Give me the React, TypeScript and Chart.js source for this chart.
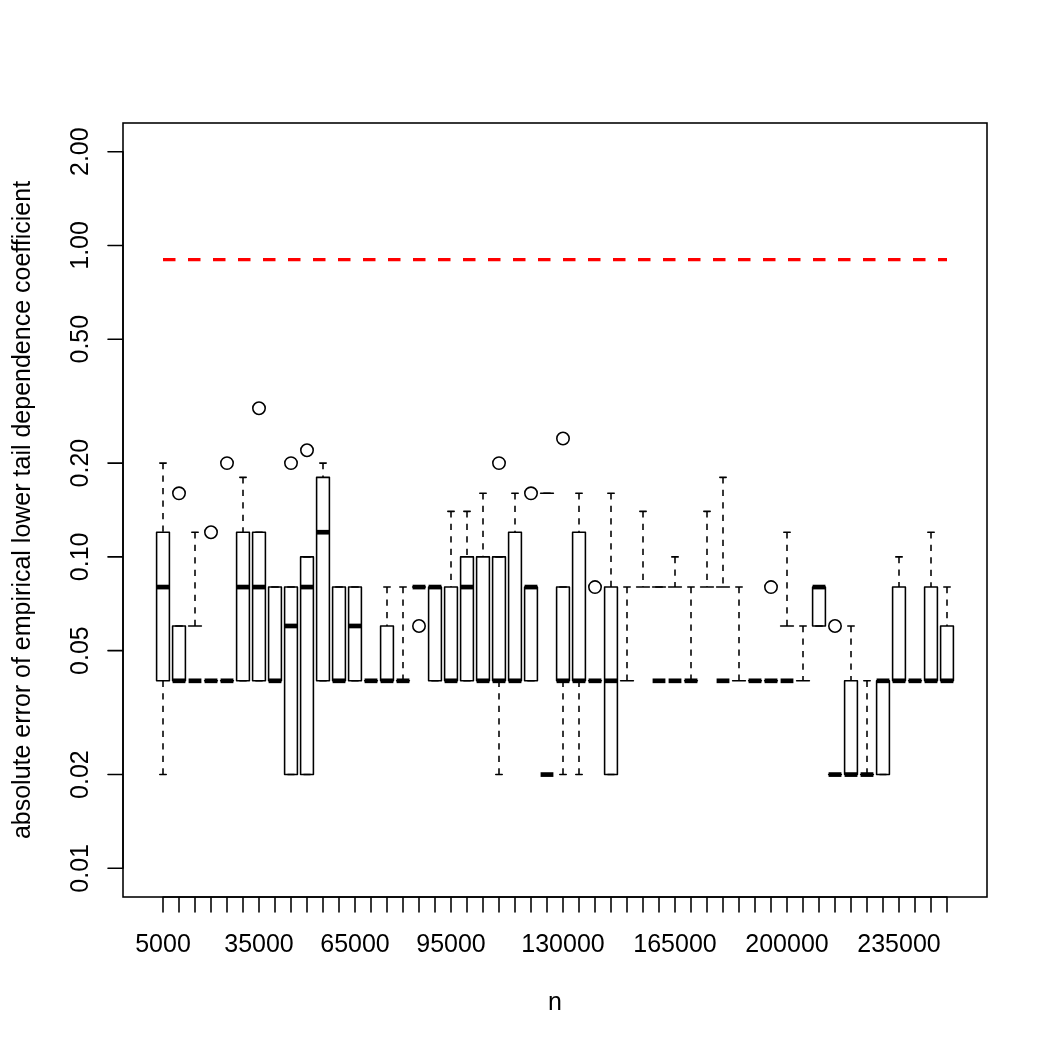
import React, { useEffect, useRef } from 'react';
import { Chart, registerables } from 'chart.js';

Chart.register(...registerables);

// Sample sizes (one box per n)
const sampleSizes = [
  5000, 10000, 15000, 20000, 25000, 30000, 35000, 40000, 45000, 50000,
  55000, 60000, 65000, 70000, 75000, 80000, 85000, 90000, 95000, 100000,
  105000, 110000, 115000, 120000, 125000, 130000, 135000, 140000, 145000, 150000,
  155000, 160000, 165000, 170000, 175000, 180000, 185000, 190000, 195000, 200000,
  205000, 210000, 215000, 220000, 225000, 230000, 235000, 240000, 245000, 250000,
];

// Five-number summaries of the absolute errors (0 = exact estimate, not shown on a log axis)
const whiskerLow = [
  0.02, 0.04, 0, 0.04, 0.04, 0.04, 0.04, 0.04, 0.02, 0.02,
  0.04, 0.04, 0.04, 0.04, 0.04, 0.04, 0.08, 0.04, 0.04, 0.04,
  0.04, 0.02, 0.04, 0.04, 0, 0.02, 0.02, 0.04, 0.02, 0,
  0, 0, 0, 0.04, 0, 0, 0, 0.04, 0.04, 0,
  0, 0.06, 0.02, 0.02, 0.02, 0.02, 0.04, 0.04, 0.04, 0.04,
];
const lowerHinge = [
  0.04, 0.04, 0, 0.04, 0.04, 0.04, 0.04, 0.04, 0.02, 0.02,
  0.04, 0.04, 0.04, 0.04, 0.04, 0.04, 0.08, 0.04, 0.04, 0.04,
  0.04, 0.04, 0.04, 0.04, 0, 0.04, 0.04, 0.04, 0.02, 0,
  0, 0, 0, 0.04, 0, 0, 0, 0.04, 0.04, 0,
  0, 0.06, 0.02, 0.02, 0.02, 0.02, 0.04, 0.04, 0.04, 0.04,
];
const medians = [
  0.08, 0.04, 0.04, 0.04, 0.04, 0.08, 0.08, 0.04, 0.06, 0.08,
  0.12, 0.04, 0.06, 0.04, 0.04, 0.04, 0.08, 0.08, 0.04, 0.08,
  0.04, 0.04, 0.04, 0.08, 0.02, 0.04, 0.04, 0.04, 0.04, 0,
  0, 0.04, 0.04, 0.04, 0, 0.04, 0, 0.04, 0.04, 0.04,
  0, 0.08, 0.02, 0.02, 0.02, 0.04, 0.04, 0.04, 0.04, 0.04,
];
const upperHinge = [
  0.12, 0.06, 0.06, 0.04, 0.04, 0.12, 0.12, 0.08, 0.08, 0.10,
  0.18, 0.08, 0.08, 0.04, 0.06, 0.04, 0.08, 0.08, 0.08, 0.10,
  0.10, 0.10, 0.12, 0.08, 0.16, 0.08, 0.12, 0.04, 0.08, 0.04,
  0.08, 0.08, 0.08, 0.04, 0.08, 0.08, 0.04, 0.04, 0.04, 0.06,
  0.04, 0.08, 0.02, 0.04, 0.02, 0.04, 0.08, 0.04, 0.08, 0.06,
];
const whiskerHigh = [
  0.20, 0.06, 0.12, 0.04, 0.04, 0.18, 0.12, 0.08, 0.08, 0.10,
  0.20, 0.08, 0.08, 0.04, 0.08, 0.08, 0.08, 0.08, 0.14, 0.14,
  0.16, 0.10, 0.16, 0.08, 0.16, 0.08, 0.16, 0.04, 0.16, 0.08,
  0.14, 0.08, 0.10, 0.08, 0.14, 0.18, 0.08, 0.04, 0.04, 0.12,
  0.06, 0.08, 0.02, 0.06, 0.04, 0.04, 0.10, 0.04, 0.12, 0.08,
];

// Outlying runs: box number (1-based) and value
const outlierBox = [2, 4, 5, 7, 9, 10, 17, 22, 24, 26, 28, 39, 43];
const outlierValue = [0.16, 0.12, 0.20, 0.30, 0.20, 0.22, 0.06, 0.20, 0.16, 0.24, 0.08, 0.08, 0.06];

// Reference level drawn across all sample sizes
const referenceLevel = 0.9;

// Axis ticks and labels
const yTicks = [0.01, 0.02, 0.05, 0.1, 0.2, 0.5, 1, 2];
const yTickLabels = ['0.01', '0.02', '0.05', '0.10', '0.20', '0.50', '1.00', '2.00'];
const xShownLabels = ['5000', '35000', '65000', '95000', '130000', '165000', '200000', '235000'];

const X_TITLE = 'n';
const Y_TITLE = 'absolute error of empirical lower tail dependence coefficient';

// Axis limits: data range extended by 4% on each side (log scale for y)
const Y_LO = Math.log10(0.01);
const Y_HI = Math.log10(2);
const Y_PAD = (Y_HI - Y_LO) * 0.04;
const Y_MIN = Math.pow(10, Y_LO - Y_PAD);
const Y_MAX = Math.pow(10, Y_HI + Y_PAD);
const X_MIN = 0.5 - sampleSizes.length * 0.04;
const X_MAX = sampleSizes.length + 0.5 + sampleSizes.length * 0.04;

const FONT = '"Liberation Sans", Arial, Helvetica, sans-serif';
const LWD = 1.5625; // one line-width unit in pixels
const BOX_WEX = 0.8;

const boxplotPlugin = {
  id: 'boxplots',
  beforeDatasetsDraw(chart: any) {
    const { ctx, scales } = chart;
    const xs = scales.x;
    const ys = scales.y;
    const py = (v: number) => (v > 0 ? ys.getPixelForValue(v) : NaN);
    ctx.save();
    const area = chart.chartArea;
    ctx.beginPath();
    ctx.rect(area.left, area.top, area.right - area.left, area.bottom - area.top);
    ctx.clip();
    for (let i = 0; i < sampleSizes.length; i++) {
      const cx = xs.getPixelForValue(i + 1);
      const half = xs.getPixelForValue(i + 1 + BOX_WEX / 2) - cx;
      const sHalf = half * 0.5;
      const lo = py(whiskerLow[i]);
      const q1 = py(lowerHinge[i]);
      const md = py(medians[i]);
      const q3 = py(upperHinge[i]);
      const hi = py(whiskerHigh[i]);

      // box: polygon split into runs of finite vertices
      const vx = [cx - half, cx + half, cx + half, cx - half];
      const vy = [q1, q1, q3, q3];
      let run: number[] = [];
      const flush = () => {
        if (run.length > 1) {
          ctx.beginPath();
          ctx.moveTo(vx[run[0]], vy[run[0]]);
          for (let k = 1; k < run.length; k++) ctx.lineTo(vx[run[k]], vy[run[k]]);
          ctx.closePath();
          ctx.fillStyle = '#ffffff';
          ctx.fill();
          ctx.setLineDash([]);
          ctx.lineWidth = LWD;
          ctx.strokeStyle = '#000000';
          ctx.lineJoin = 'round';
          ctx.stroke();
        }
        run = [];
      };
      for (let k = 0; k < 4; k++) {
        if (isFinite(vy[k])) run.push(k);
        else flush();
      }
      flush();

      // median
      if (isFinite(md)) {
        ctx.beginPath();
        ctx.setLineDash([]);
        ctx.lineCap = 'butt';
        ctx.lineWidth = LWD * 3;
        ctx.strokeStyle = '#000000';
        ctx.moveTo(cx - half, md);
        ctx.lineTo(cx + half, md);
        ctx.stroke();
      }

      // whiskers
      ctx.lineWidth = LWD;
      ctx.lineCap = 'butt';
      ctx.setLineDash([4 * LWD, 4 * LWD]);
      const whisk = (a: number, b: number) => {
        if (isFinite(a) && isFinite(b) && Math.abs(a - b) > 0.01) {
          ctx.beginPath();
          ctx.moveTo(cx, a);
          ctx.lineTo(cx, b);
          ctx.stroke();
        }
      };
      whisk(lo, q1);
      whisk(hi, q3);

      // staples
      ctx.setLineDash([]);
      ctx.lineCap = 'round';
      [lo, hi].forEach((v) => {
        if (isFinite(v)) {
          ctx.beginPath();
          ctx.moveTo(cx - sHalf, v);
          ctx.lineTo(cx + sHalf, v);
          ctx.stroke();
        }
      });
    }
    ctx.restore();
  },
};

const axesPlugin = {
  id: 'rAxes',
  afterDraw(chart: any) {
    const { ctx, chartArea: a, scales } = chart;
    const xs = scales.x;
    const ys = scales.y;
    const tick = 15;
    ctx.save();
    ctx.strokeStyle = '#000';
    ctx.fillStyle = '#000';
    ctx.lineWidth = LWD;
    ctx.setLineDash([]);
    ctx.lineCap = 'round';

    // frame
    ctx.strokeRect(a.left, a.top, a.right - a.left, a.bottom - a.top);

    // x axis
    const x0 = xs.getPixelForValue(1);
    const x1 = xs.getPixelForValue(sampleSizes.length);
    ctx.beginPath();
    ctx.moveTo(x0, a.bottom);
    ctx.lineTo(x1, a.bottom);
    for (let i = 0; i < sampleSizes.length; i++) {
      const px = xs.getPixelForValue(i + 1);
      ctx.moveTo(px, a.bottom);
      ctx.lineTo(px, a.bottom + tick);
    }
    ctx.stroke();
    ctx.font = `25px ${FONT}`;
    ctx.textAlign = 'center';
    ctx.textBaseline = 'alphabetic';
    xShownLabels.forEach((lab) => {
      const idx = sampleSizes.indexOf(Number(lab));
      ctx.fillText(lab, xs.getPixelForValue(idx + 1), a.bottom + 55);
    });
    ctx.fillText(X_TITLE, (a.left + a.right) / 2, a.bottom + 113);

    // y axis
    const yTop = ys.getPixelForValue(yTicks[yTicks.length - 1]);
    const yBot = ys.getPixelForValue(yTicks[0]);
    ctx.beginPath();
    ctx.moveTo(a.left, yBot);
    ctx.lineTo(a.left, yTop);
    yTicks.forEach((v) => {
      const p = ys.getPixelForValue(v);
      ctx.moveTo(a.left, p);
      ctx.lineTo(a.left - tick, p);
    });
    ctx.stroke();
    yTicks.forEach((v, k) => {
      const p = ys.getPixelForValue(v);
      ctx.save();
      ctx.translate(a.left - 35, p);
      ctx.rotate(-Math.PI / 2);
      ctx.textAlign = 'center';
      ctx.textBaseline = 'alphabetic';
      ctx.fillText(yTickLabels[k], 0, 0);
      ctx.restore();
    });
    ctx.save();
    ctx.translate(a.left - 93, (a.top + a.bottom) / 2);
    ctx.rotate(-Math.PI / 2);
    ctx.textAlign = 'center';
    ctx.textBaseline = 'alphabetic';
    ctx.fillText(Y_TITLE, 0, 0);
    ctx.restore();

    ctx.restore();
  },
};

export default function App() {
  const ref = useRef<HTMLCanvasElement>(null);

  useEffect(() => {
    const canvas = ref.current;
    if (!canvas) return;
    const chart = new Chart(canvas, {
      type: 'scatter',
      data: {
        datasets: [
          {
            type: 'line',
            label: 'reference',
            data: [
              { x: 1, y: referenceLevel },
              { x: sampleSizes.length, y: referenceLevel },
            ],
            borderColor: '#ff0000',
            borderWidth: 2 * LWD,
            borderDash: [8 * LWD, 8 * LWD],
            borderCapStyle: 'butt',
            pointRadius: 0,
            fill: false,
            tension: 0,
          } as any,
          {
            label: 'outliers',
            data: outlierBox.map((b, k) => ({ x: b, y: outlierValue[k] })),
            pointRadius: 6.2,
            pointStyle: 'circle',
            borderColor: '#000000',
            backgroundColor: 'rgba(0,0,0,0)',
            borderWidth: LWD,
          },
        ],
      },
      options: {
        responsive: false,
        animation: false,
        devicePixelRatio: 1,
        events: [],
        layout: { padding: { left: 123, right: 63, top: 123, bottom: 153 } },
        plugins: { legend: { display: false }, tooltip: { enabled: false } },
        scales: {
          x: { type: 'linear', display: false, min: X_MIN, max: X_MAX },
          y: { type: 'logarithmic', display: false, min: Y_MIN, max: Y_MAX },
        },
      },
      plugins: [boxplotPlugin, axesPlugin],
    });
    return () => chart.destroy();
  }, []);

  return (
    <div style={{ position: 'fixed', left: 0, top: 0, width: 1050, height: 1050, background: '#ffffff' }}>
      <canvas ref={ref} width={1050} height={1050} style={{ display: 'block' }} />
    </div>
  );
}
